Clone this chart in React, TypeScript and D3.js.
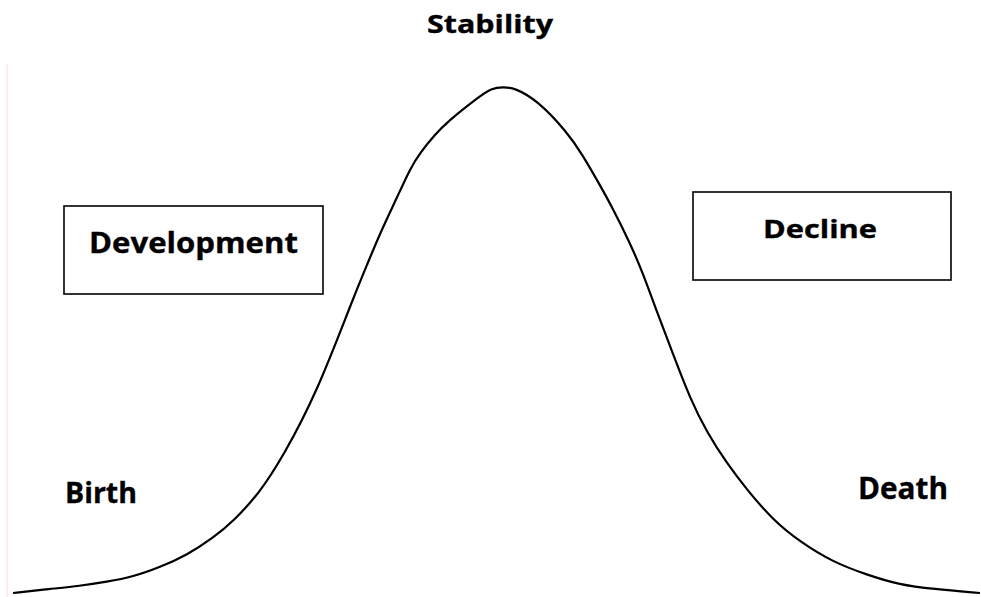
import { useEffect, useRef } from 'react';
import * as d3 from 'd3';

// Life cycle curve (time 0-100, level 0-100)
const time = [
  0, 3.8, 6.9, 9.7, 12.4, 15.2, 18.0, 20.7, 22.8, 25.5, 27.9, 31.4, 35.1, 36.6,
  38.0, 39.7, 41.1, 42.1, 43.6, 44.9, 48.0, 49.5, 50.7, 51.9, 54.2, 57.3, 58.9,
  60.7, 62.0, 63.8, 65.1, 66.6, 68.3, 70.0, 71.8, 73.8, 75.9, 78.6, 81.4, 84.8,
  88.3, 91.7, 95.1, 100,
];
const level = [
  0, 0.8, 1.4, 2.2, 3.2, 5.1, 7.5, 10.9, 14.2, 19.8, 26.9, 39.5, 57.9, 64.8,
  71.3, 78.1, 84.0, 87.0, 90.5, 93.1, 97.8, 99.8, 100, 99.8, 97.4, 91.1, 86.6,
  80.6, 76.1, 69.2, 63.4, 55.5, 47.0, 38.5, 31.6, 25.7, 20.4, 14.4, 10.1, 6.1,
  3.6, 1.6, 0.8, 0,
];

const stageLabels = ['Birth', 'Development', 'Stability', 'Decline', 'Death'];

const WIDTH = 981;
const HEIGHT = 597;

export default function App() {
  const svgRef = useRef<SVGSVGElement>(null);

  useEffect(() => {
    if (!svgRef.current) return;
    const svg = d3.select(svgRef.current);
    svg.selectAll('*').remove();

    const x = d3.scaleLinear().domain([0, 100]).range([13, 980]);
    const y = d3.scaleLinear().domain([0, 100]).range([593, 87]);

    svg.append('rect')
      .attr('width', WIDTH)
      .attr('height', HEIGHT)
      .attr('fill', '#ffffff');

    // faint left edge
    svg.append('line')
      .attr('x1', 7).attr('x2', 7)
      .attr('y1', 64).attr('y2', HEIGHT)
      .attr('stroke', '#fcecec')
      .attr('stroke-width', 2);

    const points = time.map((t, i) => [t, level[i]] as [number, number]);

    const line = d3.line<[number, number]>()
      .x(d => x(d[0]))
      .y(d => y(d[1]))
      .curve(d3.curveBasis);

    svg.append('path')
      .datum(points)
      .attr('d', line)
      .attr('fill', 'none')
      .attr('stroke', '#000')
      .attr('stroke-width', 2.2);

    // boxes
    const boxes = [
      { x: 64, y: 206, w: 259, h: 88 },
      { x: 693, y: 192, w: 258, h: 88 },
    ];
    svg.selectAll('.box')
      .data(boxes)
      .enter().append('rect')
      .attr('class', 'box')
      .attr('x', d => d.x)
      .attr('y', d => d.y)
      .attr('width', d => d.w)
      .attr('height', d => d.h)
      .attr('fill', 'none')
      .attr('stroke', '#000')
      .attr('stroke-width', 1.6);

    // label placement: [x start, baseline, font size, width]
    const placement: [number, number, number, number][] = [
      [65, 503, 29, 72],
      [89, 253, 29, 209],
      [427, 33, 25, 126],
      [763, 238, 25, 114],
      [858, 499, 30, 90],
    ];

    svg.selectAll('.label')
      .data(stageLabels)
      .enter().append('text')
      .attr('class', 'label')
      .attr('x', (d, i) => placement[i][0])
      .attr('y', (d, i) => placement[i][1])
      .attr('textLength', (d, i) => placement[i][3])
      .attr('lengthAdjust', 'spacingAndGlyphs')
      .style('font-family', '"Open Sans", sans-serif')
      .style('font-weight', 700)
      .style('font-size', (d, i) => `${placement[i][2]}px`)
      .style('fill', '#000')
      .style('stroke', '#000')
      .style('stroke-width', 0.35)
      .text(d => d);
  }, []);

  return (
    <svg
      ref={svgRef}
      width={WIDTH}
      height={HEIGHT}
      style={{ position: 'absolute', left: 0, top: 0 }}
    />
  );
}
